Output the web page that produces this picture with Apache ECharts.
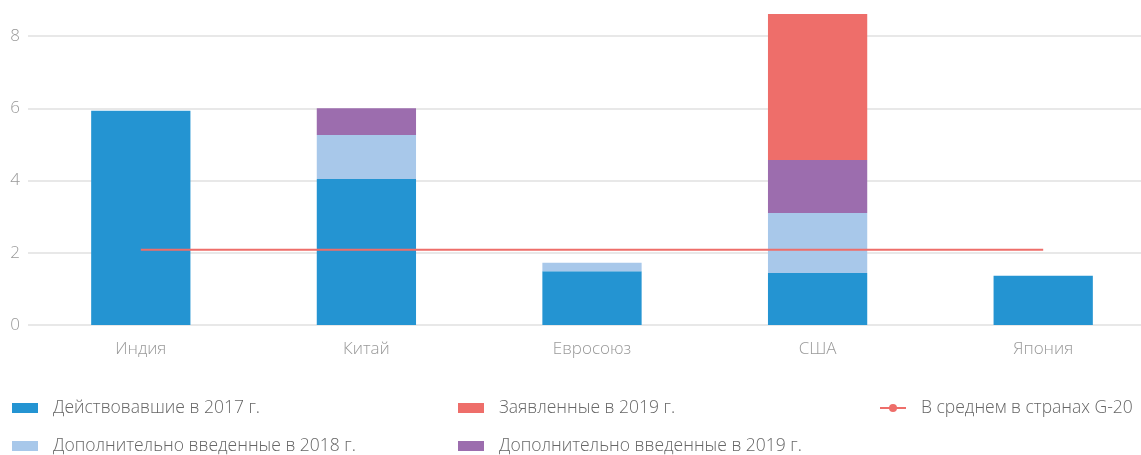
<!DOCTYPE html>
<html><head><meta charset="utf-8">
<script src="https://cdn.jsdelivr.net/npm/echarts@6/dist/echarts.min.js"></script>
<style>html,body{margin:0;padding:0;background:#fff}#c{width:1141px;height:455px}</style>
</head><body><div id="c"></div>
<script>
const categories = ['Индия', 'Китай', 'Евросоюз', 'США', 'Япония'];
const active2017 = [5.93, 4.04, 1.49, 1.44, 1.36];
const added2018 = [0, 1.22, 0.23, 1.66, 0];
const added2019 = [0, 0.74, 0, 1.47, 0];
const announced2019 = [0, 0, 0, 4.04, 0];
const g20Average = [2.08, 2.08, 2.08, 2.08, 2.08];
const yTicks = [0, 2, 4, 6, 8];

const names = {
  a: 'Действовавшие в 2017 г.',
  b: 'Дополнительно введенные в 2018 г.',
  c: 'Заявленные в 2019 г.',
  d: 'Дополнительно введенные в 2019 г.',
  e: 'В среднем в странах G-20'
};
const font = '"Open Sans", Lato, sans-serif';
const chart = echarts.init(document.getElementById('c'), null, {renderer: 'canvas'});
const legendText = {color: '#666', fontSize: 17.5, fontFamily: font, fontWeight: 300, padding: [0, 0, 0, 10]};
function lg(left, top, name, icon) {
  const l = {left: left, top: top, itemWidth: 26, itemHeight: 10, itemGap: 10, textStyle: legendText, data: [name], selectedMode: false};
  if (icon) l.icon = icon;
  return l;
}
const barBase = {type: 'bar', stack: 'total', barWidth: '44%', clip: false, emphasis: {disabled: true}};
chart.setOption({
  animation: false,
  textStyle: {fontFamily: font},
  grid: {left: 28, width: 1128, top: 36, bottom: 130, outerBoundsMode: 'none', containLabel: false},
  legend: [
    lg(7, 394, names.a, 'rect'),
    lg(7, 432, names.b, 'rect'),
    lg(453, 394, names.c, 'rect'),
    lg(453, 432, names.d, 'rect'),
    lg(874, 394, names.e)
  ],
  xAxis: {
    type: 'category', data: categories,
    axisLine: {show: false}, axisTick: {show: false},
    axisLabel: {color: '#999', fontSize: 17, margin: 16, fontFamily: font, fontWeight: 300}
  },
  yAxis: {
    type: 'value', min: yTicks[0], max: yTicks[yTicks.length - 1], interval: 2,
    axisLine: {show: false}, axisTick: {show: false},
    axisLabel: {color: '#999', fontSize: 17, margin: 8, fontFamily: font, fontWeight: 300},
    splitLine: {lineStyle: {color: '#e0e0e0', width: 1.5}}
  },
  series: [
    Object.assign({}, barBase, {name: names.a, data: active2017, itemStyle: {color: '#2494d2'}}),
    Object.assign({}, barBase, {name: names.b, data: added2018, itemStyle: {color: '#a8c8ea'}}),
    Object.assign({}, barBase, {name: names.d, data: added2019, itemStyle: {color: '#9c6dae'}}),
    Object.assign({}, barBase, {name: names.c, data: announced2019, itemStyle: {color: '#ee6e6a'}}),
    {type: 'line', name: names.e, data: g20Average, symbol: 'circle', symbolSize: 6, showSymbol: false, z: 5,
     lineStyle: {color: '#ee6e6a', width: 2}, itemStyle: {color: '#ee6e6a'}, emphasis: {disabled: true}}
  ]
});
</script></body></html>
